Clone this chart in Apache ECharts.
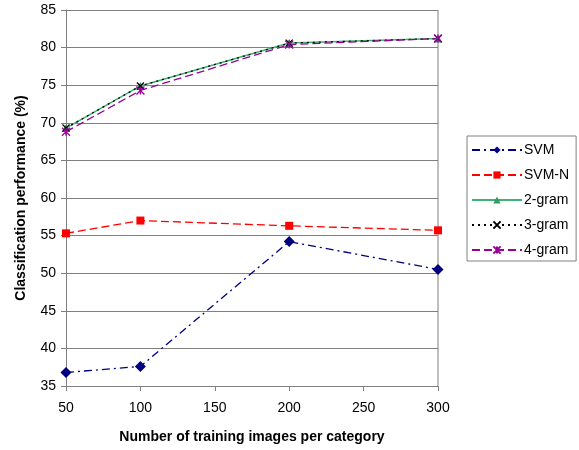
<!DOCTYPE html>
<html>
<head>
<meta charset="utf-8">
<script src="https://cdn.jsdelivr.net/npm/echarts@6/dist/echarts.min.js"></script>
<style>
  html, body { margin: 0; padding: 0; background: #fff; }
  #chart { width: 579px; height: 450px; }
</style>
</head>
<body>
<div id="chart"></div>
<script>
// Training set sizes (images per category)
const trainingSizes = [50, 100, 200, 300];

// Classification performance (%) per method
const svm     = [36.8, 37.6, 54.2, 50.5];
const svmN    = [55.3, 57.0, 56.3, 55.7];
const gram2   = [69.3, 74.9, 80.6, 81.2];
const gram3   = [69.3, 74.9, 80.6, 81.2];
const gram4   = [68.8, 74.3, 80.4, 81.2];

const seriesNames = ['SVM', 'SVM-N', '2-gram', '3-gram', '4-gram'];

const xTicks = { min: 50, max: 300, step: 50 };
const yTicks = { min: 35, max: 85, step: 5 };

const pair = vals => vals.map((v, i) => [trainingSizes[i], v]);

const FONT = '"Liberation Sans", Arial, sans-serif';
const crossPath = 'path://M0,0L10,10M10,0L0,10';
const starPath = 'path://M0,0L10,10M10,0L0,10M5,0L5,10';

const chart = echarts.init(document.getElementById('chart'), null, { renderer: 'canvas' });

chart.setOption({
  animation: false,
  backgroundColor: '#ffffff',
  textStyle: { fontFamily: FONT },
  grid: { left: 66, right: 141, top: 10, bottom: 64, containLabel: false },
  xAxis: {
    type: 'value',
    min: xTicks.min, max: xTicks.max, interval: xTicks.step,
    name: 'Number of training images per category',
    nameLocation: 'middle',
    nameGap: 44,
    nameTextStyle: { fontFamily: FONT, fontSize: 14, fontWeight: 'bold', color: '#000' },
    axisLine: { lineStyle: { color: '#808080', width: 1 } },
    axisTick: { show: true, length: 5, lineStyle: { color: '#808080' } },
    axisLabel: { fontFamily: FONT, fontSize: 14, color: '#000', margin: 15 },
    splitLine: { show: false }
  },
  yAxis: {
    type: 'value',
    min: yTicks.min, max: yTicks.max, interval: yTicks.step,
    name: 'Classification performance (%)',
    nameLocation: 'middle',
    nameGap: 38,
    nameTextStyle: { fontFamily: FONT, fontSize: 14, fontWeight: 'bold', color: '#000' },
    axisLine: { show: true, lineStyle: { color: '#808080', width: 1 } },
    axisTick: { show: true, length: 5, lineStyle: { color: '#808080' } },
    axisLabel: { fontFamily: FONT, fontSize: 14, color: '#000', margin: 10 },
    splitLine: { show: true, lineStyle: { color: '#808080', width: 1 } }
  },
  legend: {
    orient: 'vertical',
    left: 467, top: 136,
    padding: [7, 7, 4, 4],
    borderColor: '#808080', borderWidth: 1,
    itemGap: 11,
    itemWidth: 50, itemHeight: 9,
    textStyle: { fontFamily: FONT, fontSize: 14, color: '#000', padding: [0, 0, 0, -3] },
    data: seriesNames
  },
  series: [
    {
      name: seriesNames[0], type: 'line', data: pair(svm),
      symbol: 'diamond', symbolSize: 11,
      itemStyle: { color: '#000080' },
      lineStyle: { color: '#000080', width: 1.3, type: [8, 4, 2, 4] }
    },
    {
      name: seriesNames[1], type: 'line', data: pair(svmN),
      symbol: 'rect', symbolSize: 8,
      itemStyle: { color: '#ff0000' },
      lineStyle: { color: '#ff0000', width: 1.3, type: [8, 4] }
    },
    {
      name: seriesNames[2], type: 'line', data: pair(gram2),
      symbol: 'triangle', symbolSize: 8,
      itemStyle: { color: '#339966' },
      lineStyle: { color: '#3cb371', width: 1.5, type: 'solid' }
    },
    {
      name: seriesNames[3], type: 'line', data: pair(gram3),
      symbol: crossPath, symbolSize: 7,
      itemStyle: { color: 'none', borderColor: '#000', borderWidth: 1.3 },
      lineStyle: { color: '#000', width: 1.3, type: [2, 4] }
    },
    {
      name: seriesNames[4], type: 'line', data: pair(gram4),
      symbol: starPath, symbolSize: 8,
      itemStyle: { color: 'none', borderColor: '#990099', borderWidth: 1.3 },
      lineStyle: { color: '#990099', width: 1.3, type: [8, 4] }
    }
  ]
});

// Close the plot frame on the right side, positioned through the axis scales
const rightTop = chart.convertToPixel({ gridIndex: 0 }, [xTicks.max, yTicks.max]);
const rightBottom = chart.convertToPixel({ gridIndex: 0 }, [xTicks.max, yTicks.min]);
chart.setOption({
  graphic: [{
    type: 'line', silent: true, z: 1,
    shape: { x1: rightTop[0], y1: rightTop[1], x2: rightBottom[0], y2: rightBottom[1] },
    style: { stroke: '#808080', lineWidth: 1 }
  }]
});
</script>
</body>
</html>
